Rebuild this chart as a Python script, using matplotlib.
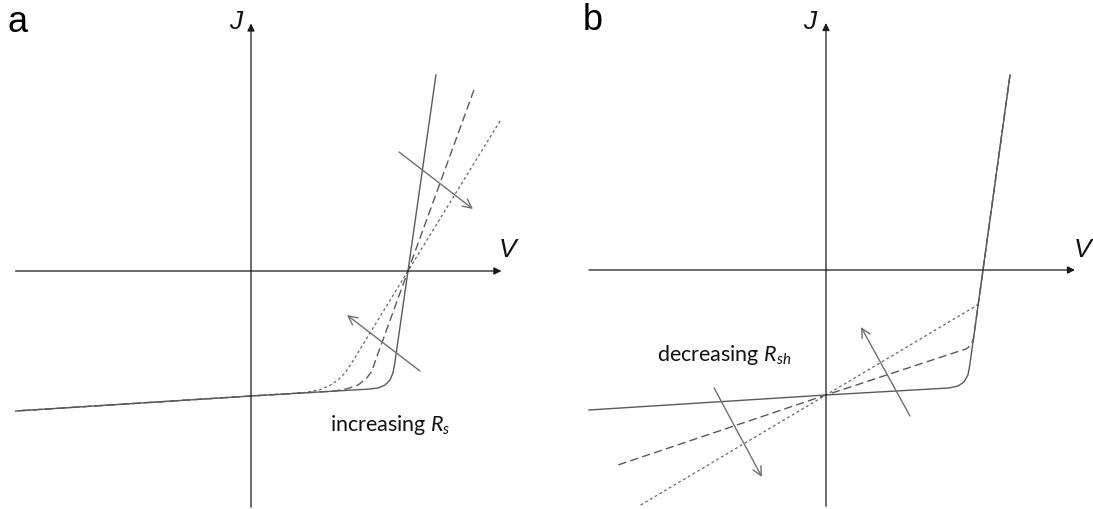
import matplotlib
matplotlib.use("Agg")
import matplotlib.pyplot as plt

plt.rcParams["mathtext.fontset"] = "custom"
plt.rcParams["mathtext.rm"] = "Lato"
plt.rcParams["mathtext.it"] = "Lato:italic"

# ---- Panel a: effect of series resistance (V normalised to Voc, J to Jsc) ----
a_solid_v = [1.178, 1.0, 0.915, 0.904, 0.885, 0.854, 0.809, 0.758, 0.0, -1.499]
a_solid_j = [1.568, 0.0, -0.744, -0.816, -0.872, -0.912, -0.936, -0.944, -1.0, -1.12]

a_dash_v = [1.420, 1.0, 0.796, 0.771, 0.732, 0.682, 0.618, 0.535, 0.0, -1.499]
a_dash_j = [1.448, 0.0, -0.704, -0.800, -0.864, -0.912, -0.940, -0.960, -1.0, -1.12]

a_dot_v = [1.586, 1.0, 0.637, 0.599, 0.554, 0.503, 0.439, 0.344, 0.0, -1.499]
a_dot_j = [1.200, 0.0, -0.744, -0.816, -0.872, -0.915, -0.950, -0.972, -1.0, -1.12]

# ---- Panel b: effect of shunt resistance ----
b_solid_v = [1.172, 1.0, 0.915, 0.904, 0.879, 0.841, 0.783, 0.0, -1.510]
b_solid_j = [1.560, 0.0, -0.768, -0.840, -0.896, -0.928, -0.944, -1.0, -1.12]

b_dash_v = [1.172, 1.0, 0.939, 0.924, 0.892, 0.841, 0.0, -1.325]
b_dash_j = [1.560, 0.0, -0.552, -0.600, -0.632, -0.652, -1.0, -1.560]

b_dot_v = [1.172, 1.0, 0.970, 0.949, 0.0, -1.191]
b_dot_j = [1.560, 0.0, -0.272, -0.292, -1.0, -1.888]

W, H = 1093, 510
fig = plt.figure(figsize=(W / 100, H / 100), dpi=100)

curve_color = "#5a5a5a"
axis_color = "#1a1a1a"
arrow_color = "#707070"
solid_style = dict(color=curve_color, lw=1.0, linestyle="-")
dash_style = dict(color=curve_color, lw=1.0, linestyle=(0, (6, 3)))
dot_style = dict(color="#666666", lw=0.9, linestyle=(0, (2.2, 2.2)))


def make_panel(left_px, right_px, x0_px, y0_px, xscale=157.0, yscale=125.0):
    ax = fig.add_axes([left_px / W, 0, (right_px - left_px) / W, 1])
    ax.set_xlim((left_px - x0_px) / xscale, (right_px - x0_px) / xscale)
    ax.set_ylim(-(H - y0_px) / yscale, y0_px / yscale)
    ax.axis("off")
    return ax


def draw_axes(ax, xmin, xmax, ymin, ymax):
    head = dict(arrowstyle="-|>", color=axis_color, lw=0.9,
                mutation_scale=11, shrinkA=0, shrinkB=0)
    ax.annotate("", xy=(xmax, 0), xytext=(xmin, 0), arrowprops=head)
    ax.annotate("", xy=(0, ymax), xytext=(0, ymin), arrowprops=head)


def gray_arrow(ax, start, end):
    ax.annotate("", xy=end, xytext=start,
                arrowprops=dict(arrowstyle="->", color=arrow_color, lw=1.0,
                                mutation_scale=16, shrinkA=0, shrinkB=0))


label_font = dict(family="Liberation Sans", style="italic", fontsize=19,
                  color="#111111", ha="center", va="center")
note_font = dict(fontsize=15.5, family="Lato", color="#111111",
                 ha="center", va="center")

# Panel a
ax_a = make_panel(0, 546, 251, 272)
draw_axes(ax_a, -1.50, 1.595, -1.89, 1.98)
ax_a.plot(a_dot_v, a_dot_j, **dot_style)
ax_a.plot(a_dash_v, a_dash_j, **dash_style)
ax_a.plot(a_solid_v, a_solid_j, **solid_style)
gray_arrow(ax_a, (0.943, 0.952), (1.414, 0.496))
gray_arrow(ax_a, (1.076, -0.800), (0.611, -0.352))
ax_a.text(0.885, -1.224, r"increasing $R_s$", **note_font)
ax_a.text(-0.096, 2.0, "J", **label_font)
ax_a.text(1.637, 0.176, "V", **label_font)

# Panel b
ax_b = make_panel(546, 1093, 826, 271)
draw_axes(ax_b, -1.51, 1.586, -1.89, 1.976)
ax_b.plot(b_dot_v, b_dot_j, **dot_style)
ax_b.plot(b_dash_v, b_dash_j, **dash_style)
ax_b.plot(b_solid_v, b_solid_j, **solid_style)
gray_arrow(ax_b, (-0.713, -0.944), (-0.408, -1.656))
gray_arrow(ax_b, (0.535, -1.168), (0.223, -0.456))
ax_b.text(-0.650, -0.672, r"decreasing $R_{sh}$", **note_font)
ax_b.text(-0.102, 1.992, "J", **label_font)
ax_b.text(1.637, 0.168, "V", **label_font)

# Panel letters
fig.text(18 / W, 1 - 22 / H, "a", fontsize=26, family="Liberation Sans",
         ha="center", va="center")
fig.text(593 / W, 1 - 21 / H, "b", fontsize=26, family="Liberation Sans",
         ha="center", va="center")

fig.savefig("out.png", dpi=100, facecolor="white")
